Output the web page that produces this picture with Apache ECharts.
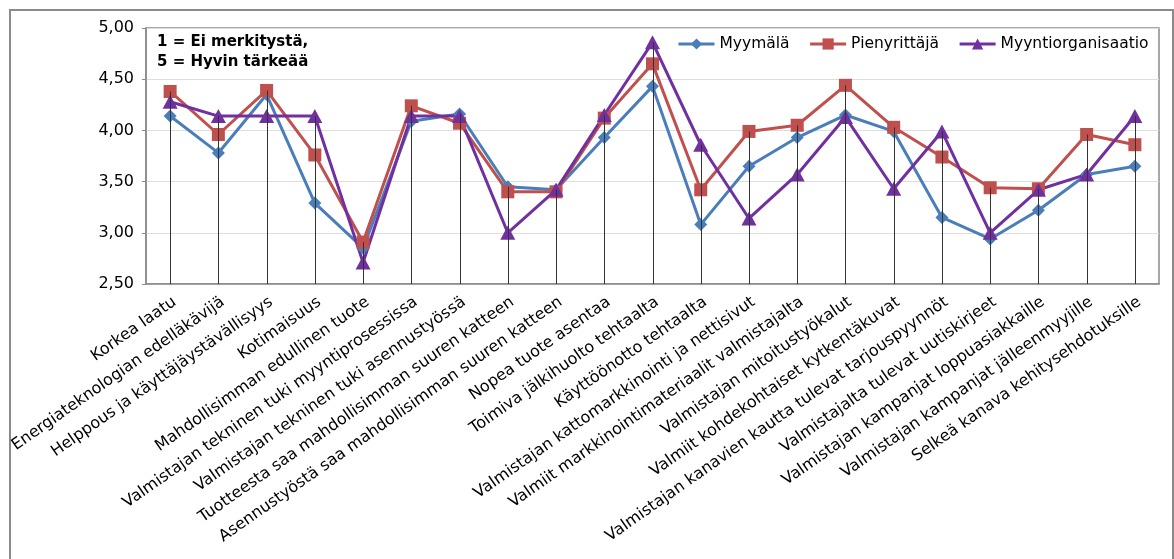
<!DOCTYPE html>
<html>
<head>
<meta charset="utf-8">
<script src="https://cdn.jsdelivr.net/npm/echarts@6/dist/echarts.min.js"></script>
<style>
  html, body { margin: 0; padding: 0; background: #ffffff; }
  #chart { width: 1174px; height: 559px; }
</style>
</head>
<body>
<div id="chart"></div>
<script>
// Item names along the category axis
const categories = [
  'Korkea laatu',
  'Energiateknologian edelläkävijä',
  'Helppous ja käyttäjäystävällisyys',
  'Kotimaisuus',
  'Mahdollisimman edullinen tuote',
  'Valmistajan tekninen tuki myyntiprosessissa',
  'Valmistajan tekninen tuki asennustyössä',
  'Tuotteesta saa mahdollisimman suuren katteen',
  'Asennustyöstä saa mahdollisimman suuren katteen',
  'Nopea tuote asentaa',
  'Toimiva jälkihuolto tehtaalta',
  'Käyttöönotto tehtaalta',
  'Valmistajan kattomarkkinointi ja nettisivut',
  'Valmiit markkinointimateriaalit valmistajalta',
  'Valmistajan mitoitustyökalut',
  'Valmiit kohdekohtaiset kytkentäkuvat',
  'Valmistajan kanavien kautta tulevat tarjouspyynnöt',
  'Valmistajalta tulevat uutiskirjeet',
  'Valmistajan kampanjat loppuasiakkaille',
  'Valmistajan kampanjat jälleenmyyjille',
  'Selkeä kanava kehitysehdotuksille'
];

// Mean importance per respondent group (1 = no significance, 5 = very important)
const myymala = [4.14, 3.78, 4.35, 3.29, 2.85, 4.09, 4.16, 3.45, 3.42, 3.93, 4.43,
                 3.08, 3.65, 3.93, 4.15, 3.99, 3.15, 2.94, 3.22, 3.57, 3.65];
const pienyrittaja = [4.38, 3.96, 4.39, 3.76, 2.91, 4.24, 4.07, 3.40, 3.40, 4.12, 4.65,
                      3.42, 3.99, 4.05, 4.44, 4.03, 3.74, 3.44, 3.43, 3.96, 3.86];
const myyntiorganisaatio = [4.28, 4.14, 4.14, 4.14, 2.71, 4.14, 4.14, 3.00, 3.42, 4.15, 4.86,
                            3.86, 3.14, 3.57, 4.13, 3.43, 3.99, 3.00, 3.42, 3.57, 4.14];

const seriesNames = ['Myymälä', 'Pienyrittäjä', 'Myyntiorganisaatio'];
const yTicks = ['2,50', '3,00', '3,50', '4,00', '4,50', '5,00'];
const noteLines = ['1 = Ei merkitystä,', '5 = Hyvin tärkeää'];

const FONT = '"DejaVu Sans", "Liberation Sans", Arial, sans-serif';
const AXIS_MIN = 2.5, AXIS_MAX = 5, AXIS_STEP = 0.5;

// Drop lines run from the axis up to the highest value of each item
const dropData = categories.map((c, i) =>
  [i, Math.max(myymala[i], pienyrittaja[i], myyntiorganisaatio[i])]);

const chart = echarts.init(document.getElementById('chart'), null, { renderer: 'canvas' });

function lineSeries(name, data, color, symbol, size) {
  return {
    name: name,
    type: 'line',
    data: data,
    symbol: symbol,
    symbolSize: size,
    showAllSymbol: true,
    lineStyle: { color: color, width: 3 },
    itemStyle: { color: color, borderWidth: 0 },
    emphasis: { disabled: true },
    z: 3
  };
}

chart.setOption({
  animation: false,
  backgroundColor: '#ffffff',
  graphic: [
    {
      type: 'rect',
      shape: { x: 10, y: 10, width: 1163, height: 580 },
      style: { fill: 'none', stroke: '#8a8a8a', lineWidth: 2 },
      silent: true,
      z: -1
    },
    {
      type: 'text',
      left: 157,
      top: 32,
      style: {
        text: noteLines.join('\n'),
        font: 'bold 15px ' + FONT,
        fill: '#000000',
        lineHeight: 20
      },
      z: 10
    }
  ],
  legend: {
    data: seriesNames,
    left: 672,
    top: 31,
    itemWidth: 36,
    itemHeight: 14,
    itemGap: 19,
    lineStyle: { width: 3 },
    textStyle: { fontFamily: FONT, fontSize: 15.5, color: '#000000' }
  },
  grid: {
    left: 146,
    right: 15,
    top: 28,
    bottom: 275,
    show: true,
    borderColor: '#8a8a8a',
    borderWidth: 1.5,
    containLabel: false,
    outerBoundsMode: 'none'
  },
  xAxis: {
    type: 'category',
    data: categories,
    boundaryGap: true,
    axisLine: { show: true, lineStyle: { color: '#8a8a8a', width: 1.5 } },
    axisTick: { show: false },
    axisLabel: {
      interval: 0,
      rotate: 35,
      margin: 10,
      align: 'right',
      verticalAlign: 'top',
      fontFamily: FONT,
      fontSize: 16,
      color: '#000000'
    },
    splitLine: { show: false }
  },
  yAxis: {
    type: 'value',
    min: AXIS_MIN,
    max: AXIS_MAX,
    interval: AXIS_STEP,
    axisLine: { show: true, lineStyle: { color: '#8a8a8a', width: 1.5 } },
    axisTick: { show: true, length: 4, lineStyle: { color: '#8a8a8a' } },
    axisLabel: {
      margin: 12,
      fontFamily: FONT,
      fontSize: 16,
      color: '#000000',
      formatter: function (v) {
        const idx = Math.round((v - AXIS_MIN) / AXIS_STEP);
        return yTicks[idx] !== undefined ? yTicks[idx] : '';
      }
    },
    splitLine: { show: true, lineStyle: { color: '#dedede', width: 1 } }
  },
  series: [
    lineSeries(seriesNames[0], myymala, '#4a7ebb', 'diamond', 13),
    lineSeries(seriesNames[1], pienyrittaja, '#c0504d', 'rect', 13),
    lineSeries(seriesNames[2], myyntiorganisaatio, '#7030a0', 'triangle', [15, 14]),
    {
      name: 'dropLines',
      type: 'custom',
      data: dropData,
      silent: true,
      z: 5,
      renderItem: function (params, api) {
        const top = api.coord([api.value(0), api.value(1)]);
        const base = api.coord([api.value(0), AXIS_MIN]);
        return {
          type: 'line',
          shape: { x1: Math.round(top[0]) + 0.5, y1: top[1], x2: Math.round(base[0]) + 0.5, y2: base[1] },
          style: { stroke: '#333333', lineWidth: 1 }
        };
      }
    }
  ]
});
</script>
</body>
</html>
